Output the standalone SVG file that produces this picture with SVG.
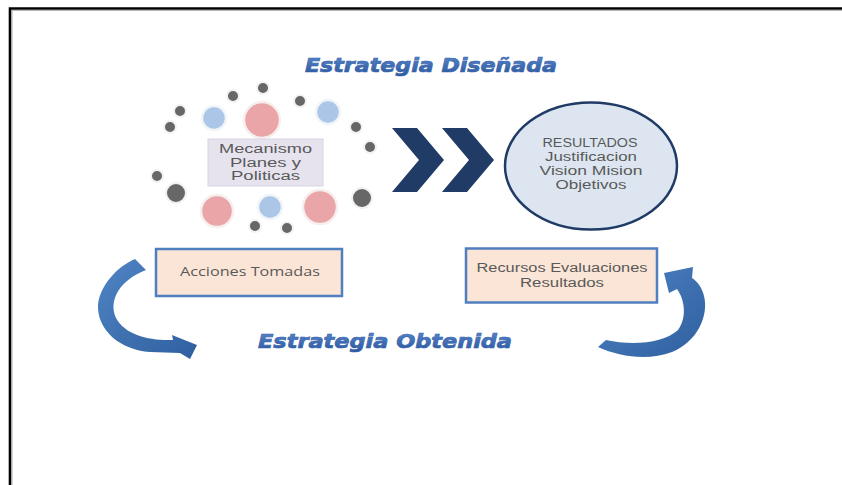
<svg xmlns="http://www.w3.org/2000/svg" width="842" height="485" viewBox="0 0 842 485">
<defs>
<linearGradient id="tg" x1="0" y1="0" x2="0" y2="1">
<stop offset="0" stop-color="#5a8ad0"/>
<stop offset="1" stop-color="#2b559c"/>
</linearGradient>
<linearGradient id="ag" x1="0" y1="0" x2="1" y2="1">
<stop offset="0" stop-color="#4f84c4"/>
<stop offset="1" stop-color="#2f5f9e"/>
</linearGradient>
<style>
.title{font-family:"DejaVu Sans",sans-serif;font-weight:bold;font-style:italic;font-size:19px;fill:url(#tg);stroke:#3a67ad;stroke-width:0.7}
.lbl{font-family:"Open Sans","Liberation Sans",sans-serif;font-size:13px;fill:#595959;text-anchor:middle}
.lbs{font-family:"Liberation Sans",sans-serif;font-size:12px;fill:#595959;text-anchor:middle}
.gray{fill:#676767;stroke:#f2f2f2;stroke-width:2}
.pink{fill:#e9a5a8;stroke:#f7eeee;stroke-width:2.5}
.blue{fill:#abc6e6;stroke:#f1f4f8;stroke-width:2.5}
.box{fill:#fbe5d6;stroke:#4f7fbf;stroke-width:2.5}
.arrow{fill:url(#ag)}
.chev{fill:#1f3b66}
</style>
</defs>
<rect width="842" height="485" fill="#ffffff"/>
<path d="M10,485 V8.5 H842" fill="none" stroke="#000" stroke-width="2.6"/>
<path d="M12,485 V10.4 H842" fill="none" stroke="#9a9a9a" stroke-width="0.8"/>

<text class="title" x="305" y="72" textLength="252" lengthAdjust="spacingAndGlyphs">Estrategia Diseñada</text>
<text class="title" x="258" y="348" textLength="254" lengthAdjust="spacingAndGlyphs">Estrategia Obtenida</text>

<g id="circles">
<circle class="gray" cx="233" cy="96" r="6"/>
<circle class="gray" cx="263" cy="88" r="6"/>
<circle class="gray" cx="300" cy="101" r="6"/>
<circle class="gray" cx="180" cy="111" r="6"/>
<circle class="gray" cx="170" cy="127" r="6"/>
<circle class="gray" cx="356" cy="127" r="6"/>
<circle class="gray" cx="370" cy="147" r="6"/>
<circle class="gray" cx="157" cy="176" r="6"/>
<circle class="gray" cx="176" cy="193" r="10"/>
<circle class="gray" cx="362" cy="198" r="10"/>
<circle class="gray" cx="255" cy="226" r="6"/>
<circle class="gray" cx="287" cy="228" r="6"/>
<circle class="pink" cx="262" cy="120" r="18"/>
<circle class="blue" cx="214" cy="118" r="12"/>
<circle class="blue" cx="328" cy="112" r="12"/>
<circle class="pink" cx="217" cy="211" r="16"/>
<circle class="pink" cx="320" cy="207" r="17"/>
<circle class="blue" cx="270" cy="207" r="12"/>
</g>

<g id="mecanismo">
<rect x="208" y="139" width="115" height="47" fill="#e6e3ef" stroke="#d8d4e4" stroke-width="1"/>
<text class="lbs" x="265.5" y="153" textLength="93" lengthAdjust="spacingAndGlyphs">Mecanismo</text>
<text class="lbs" x="265.5" y="166.5" textLength="71" lengthAdjust="spacingAndGlyphs">Planes y</text>
<text class="lbs" x="265.5" y="180" textLength="69" lengthAdjust="spacingAndGlyphs">Politicas</text>
</g>

<g id="chevrons">
<polygon class="chev" points="392,128 417,128 444,160 417,192 392,192 419,160"/>
<polygon class="chev" points="442,128 467,128 494,160 467,192 442,192 469,160"/>
</g>

<g id="resultados">
<ellipse cx="591" cy="166" rx="86" ry="63.5" fill="#dde6f0" stroke="#1f3b66" stroke-width="2.5"/>
<text class="lbs" x="590" y="147" textLength="95" lengthAdjust="spacingAndGlyphs">RESULTADOS</text>
<text class="lbs" x="591" y="161" textLength="92" lengthAdjust="spacingAndGlyphs">Justificacion</text>
<text class="lbs" x="591" y="175" textLength="103" lengthAdjust="spacingAndGlyphs">Vision Mision</text>
<text class="lbs" x="591" y="189" textLength="71" lengthAdjust="spacingAndGlyphs">Objetivos</text>
</g>

<g id="acciones">
<rect class="box" x="156" y="249" width="186" height="47"/>
<text class="lbl" x="250" y="276" textLength="140" lengthAdjust="spacingAndGlyphs">Acciones Tomadas</text>
</g>

<g id="recursos">
<rect class="box" x="466" y="248.5" width="191" height="54"/>
<text class="lbs" x="562" y="272" textLength="171" lengthAdjust="spacingAndGlyphs" font-size="13">Recursos Evaluaciones</text>
<text class="lbs" x="562" y="287" textLength="84" lengthAdjust="spacingAndGlyphs" font-size="13">Resultados</text>
</g>

<g id="connectors">
<path class="arrow" d="M135,259 C118,266 100,285 98,305 C97,330 120,350 150,352 L180,353 L190,359 L197,345 L172,335 L173,340 C150,341 125,335 116,318 C108,300 120,280 146,270 Z"/>
<path class="arrow" d="M598,347 C620,357 648,361 672,352 C697,342 709,316 704,296 C702,288 698,282 692,278 L693,267 L664,273 L669,293 L677,289 C685,300 687,318 678,330 C664,343 633,346 606,340 Z"/>
</g>
</svg>
